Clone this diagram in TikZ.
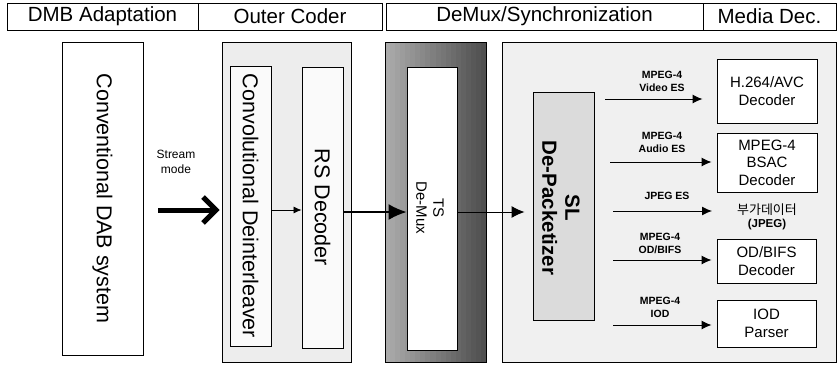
\documentclass[tikz,border=0pt]{standalone}
\usepackage{fontspec}
\setmainfont{Liberation Sans}
\newfontfamily\krfont{Noto Sans CJK KR}
\usetikzlibrary{arrows.meta}
\begin{document}
\begin{tikzpicture}[x=1pt,y=-1pt,
  blk/.style={draw=black, line width=0.9pt, inner sep=0pt},
  hdr/.style={blk, fill=white, minimum height=27pt, font=\fontsize{20.5}{22}\selectfont},
  vtext/.style={rotate=-90, align=center, inner sep=0pt},
  big/.style={font=\fontsize{21.5}{24}\selectfont},
  med/.style={align=center, font=\fontsize{15}{17.5}\selectfont},
  lbl/.style={align=center, inner sep=0pt, font=\bfseries\fontsize{10.5}{13}\selectfont},
  arr/.style={line width=1pt, -{Latex[length=10pt,width=9pt]}},
]
\useasboundingbox (0,0) rectangle (838,370);

% header
\node[hdr, minimum width=191pt] (h1) at (102.5,16.5) {DMB Adaptation};
\node[hdr, minimum width=184pt] (h2) at (290,16.5) {Outer Coder};
\node[hdr, minimum width=317pt] (h3) at (544.5,16.5) {DeMux/Synchronization};
\node[hdr, minimum width=133pt] (h4) at (769.5,16.5) {Media Dec.};

% DAB
\node[blk, fill=white, minimum width=81pt, minimum height=313pt] (dab) at (102.5,198.5) {};
\node[vtext, big] (dabT) at (dab.center) {Conventional DAB system};

% outer coder
\node[blk, fill=gray!14, minimum width=129pt, minimum height=320pt] (outer) at (286.5,202) {};
\node[blk, fill=gray!4, minimum width=41pt, minimum height=280pt] (conv) at (250.5,206) {};
\node[vtext, big] (convT) at (conv.center) {Convolutional Deinterleaver};
\node[blk, fill=gray!4, minimum width=41pt, minimum height=281pt] (rs) at (322.5,207.5) {};
\node[vtext, big] (rsT) at (rs.center) {RS Decoder};

% TS demux: horizontal gradient made of stripes
\foreach \i in {0,...,19}{
  \pgfmathsetmacro{\shadeval}{33+1.9*\i}
  \fill[black!\shadeval!white] (385+5.05*\i,42) rectangle (385+5.05*\i+5.3,362);
}
\node[blk, minimum width=101pt, minimum height=320pt] (tso) at (435.5,202) {};
\node[blk, fill=white, minimum width=50pt, minimum height=283pt] (ts) at (432,208.5) {};
\node[vtext, font=\fontsize{15}{17}\selectfont] (tsT) at (430,208) {TS\\De-Mux};

% SL
\node[blk, fill=gray!12, minimum width=334pt, minimum height=320pt] (slo) at (669,202) {};
\node[blk, fill=gray!28, minimum width=61pt, minimum height=228pt] (sl) at (563.5,206) {};
\node[vtext, font=\bfseries\fontsize{20.5}{23}\selectfont] (slT) at (561,208) {SL\\De-Packetizer};

% media decoders
\node[blk, fill=white, minimum width=100pt, minimum height=64pt, med] (avc) at (767,91) {H.264/AVC\\Decoder};
\node[blk, fill=white, minimum width=100pt, minimum height=59pt, med] (bsac) at (767,162.5) {MPEG-4\\BSAC\\Decoder};
\node[align=center, inner sep=0pt] (jpg) at (767,217) {{\krfont\fontsize{13}{15}\selectfont 부가데이터}\\[1pt]{\bfseries\fontsize{11.5}{13}\selectfont (JPEG)}};
\node[blk, fill=white, minimum width=99pt, minimum height=44pt, med] (od) at (766.5,261) {OD/BIFS\\Decoder};
\node[blk, fill=white, minimum width=99pt, minimum height=47pt, med] (iod) at (766.5,323.5) {IOD\\Parser};

% labels
\node[align=center, inner sep=0pt, font=\fontsize{12}{15}\selectfont] (sm) at (176,162) {Stream\\mode};
\node[lbl] (l1) at (662,81) {MPEG-4\\Video ES};
\node[lbl] (l2) at (662,142) {MPEG-4\\Audio ES};
\node[lbl] (l3) at (667,196) {JPEG ES};
\node[lbl] (l4) at (660,243) {MPEG-4\\OD/BIFS};
\node[lbl] (l5) at (660,307) {MPEG-4\\IOD};

% connectors
\coordinate (sIn) at (158,210);
\draw[line width=5pt, -{Straight Barb[length=13pt,width=26pt]}, shorten >=2pt] (sIn) -- (outer.west |- sIn);
\draw[line width=0.8pt, -{Latex[length=8pt,width=7pt]}] (conv.east |- 0,210) -- (rs.west |- 0,210);
\draw[line width=1.6pt, -{Latex[length=18pt,width=16pt]}] (rs.east |- 0,212) -- (ts.west |- 0,212);
\draw[line width=1pt, -{Latex[length=13pt,width=12pt]}, shorten >=8pt] (ts.east |- 0,212) -- (sl.west |- 0,212);

\coordinate (a1) at (605,99);
\coordinate (a2) at (610,162);
\coordinate (a3) at (613,211);
\coordinate (a3e) at (712,211);
\coordinate (a4) at (613,260);
\coordinate (a5) at (613,325);
\draw[arr, shorten >=14pt] (a1) -- (avc.west |- a1);
\draw[arr, shorten >=5pt] (a2) -- (bsac.west |- a2);
\draw[arr] (a3) -- (a3e);
\draw[arr, shorten >=5pt] (a4) -- (od.west |- a4);
\draw[arr, shorten >=5pt] (a5) -- (iod.west |- a5);
\end{tikzpicture}
\end{document}
